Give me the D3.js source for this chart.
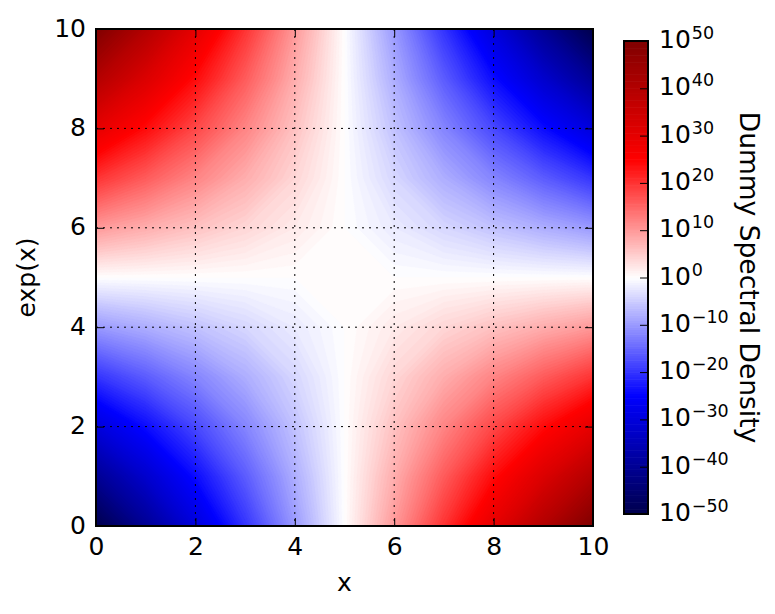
<!DOCTYPE html>
<html>
<head>
<meta charset="utf-8">
<script src="https://cdn.jsdelivr.net/npm/d3@7"></script>
<style>
  body { margin: 0; background: #fff; }
  text { font-family: "DejaVu Sans", sans-serif; fill: #000; }
</style>
</head>
<body>
<div id="chart"></div>
<script>
// tick values of the main axes
var xTicks = [0, 2, 4, 6, 8, 10];
var yTicks = [0, 2, 4, 6, 8, 10];

// sample positions of the field
var gridX = [0, 1, 2, 3, 4, 5, 6, 7, 8, 9, 10];
var gridY = [0, 1, 2, 3, 4, 5, 6, 7, 8, 9, 10];

// log10 of the density at each sample, one row per y (y = 0 first)
var logDensity = [
  [-50, -40, -30, -20, -10, 0, 10, 20, 30, 40, 50],
  [-40, -32, -24, -16, -8, 0, 8, 16, 24, 32, 40],
  [-30, -24, -18, -12, -6, 0, 6, 12, 18, 24, 30],
  [-20, -16, -12, -8, -4, 0, 4, 8, 12, 16, 20],
  [-10, -8, -6, -4, -2, 0, 2, 4, 6, 8, 10],
  [0, 0, 0, 0, 0, 0, 0, 0, 0, 0, 0],
  [10, 8, 6, 4, 2, 0, -2, -4, -6, -8, -10],
  [20, 16, 12, 8, 4, 0, -4, -8, -12, -16, -20],
  [30, 24, 18, 12, 6, 0, -6, -12, -18, -24, -30],
  [40, 32, 24, 16, 8, 0, -8, -16, -24, -32, -40],
  [50, 40, 30, 20, 10, 0, -10, -20, -30, -40, -50]
];

// colorbar ticks (exponents of ten)
var cbExponents = [-50, -40, -30, -20, -10, 0, 10, 20, 30, 40, 50];

var width = 775, height = 614;
var plot = {left: 96, top: 29, right: 593, bottom: 526};
var cb = {left: 624, top: 41, right: 648, bottom: 514};

var svg = d3.select("#chart").append("svg")
    .attr("width", width)
    .attr("height", height);

var x = d3.scaleLinear().domain([0, 10]).range([plot.left, plot.right]);
var y = d3.scaleLinear().domain([0, 10]).range([plot.bottom, plot.top]);

// "seismic" colormap on the exponent
var color = d3.scaleLinear()
    .domain([-50, -25, 0, 25, 50])
    .range(["#00004c", "#0000ff", "#ffffff", "#ff0000", "#800000"]);

// contour levels
var levels = d3.range(-50, 50.0001, 0.5);

svg.append("clipPath").attr("id", "clip")
  .append("rect")
    .attr("x", plot.left).attr("y", plot.top)
    .attr("width", plot.right - plot.left)
    .attr("height", plot.bottom - plot.top);

// filled contours
var nx = gridX.length, ny = gridY.length;
var flat = [];
logDensity.forEach(function(row) { row.forEach(function(v) { flat.push(v); }); });

var ix = d3.scaleLinear().domain([0, nx - 1]).range([gridX[0], gridX[nx - 1]]);
var iy = d3.scaleLinear().domain([0, ny - 1]).range([gridY[0], gridY[ny - 1]]);

var proj = d3.geoTransform({
  point: function(px, py) {
    this.stream.point(x(ix(px - 0.5)), y(iy(py - 0.5)));
  }
});
var path = d3.geoPath(proj);

var bands = d3.contours()
    .size([nx, ny])
    .thresholds(levels.slice(0, -1))(flat);

svg.append("g")
    .attr("clip-path", "url(#clip)")
  .selectAll("path")
  .data(bands)
  .enter().append("path")
    .attr("d", path)
    .attr("fill", function(d) { return color(d.value + 0.25); })
    .attr("stroke", function(d) { return color(d.value + 0.25); })
    .attr("stroke-width", 0.3);

// dotted grid
var grid = svg.append("g");
grid.selectAll(".gx")
  .data(xTicks.slice(1, -1))
  .enter().append("line")
    .attr("x1", function(d) { return x(d); })
    .attr("x2", function(d) { return x(d); })
    .attr("y1", plot.top).attr("y2", plot.bottom)
    .attr("stroke", "#000").attr("stroke-width", 1)
    .attr("stroke-dasharray", "2,5");
grid.selectAll(".gy")
  .data(yTicks.slice(1, -1))
  .enter().append("line")
    .attr("y1", function(d) { return y(d); })
    .attr("y2", function(d) { return y(d); })
    .attr("x1", plot.left).attr("x2", plot.right)
    .attr("stroke", "#000").attr("stroke-width", 1)
    .attr("stroke-dasharray", "2,5");

// axes, ticks pointing inward on all sides
function styleAxis(g) {
  g.select(".domain").remove();
  g.selectAll(".tick line").attr("stroke", "#000").attr("stroke-width", 1);
  g.selectAll(".tick text")
    .attr("font-size", 25)
    .attr("font-family", "DejaVu Sans, sans-serif");
}

svg.append("g")
    .attr("transform", "translate(0," + plot.bottom + ")")
    .call(d3.axisBottom(x).tickValues(xTicks).tickSize(-8).tickPadding(0).tickFormat(d3.format("d")))
    .call(styleAxis)
    .selectAll(".tick text").attr("dy", null).attr("y", 29);

svg.append("g")
    .attr("transform", "translate(0," + plot.top + ")")
    .call(d3.axisTop(x).tickValues(xTicks).tickSize(-8).tickFormat(""))
    .call(styleAxis);

svg.append("g")
    .attr("transform", "translate(" + plot.left + ",0)")
    .call(d3.axisLeft(y).tickValues(yTicks).tickSize(-8).tickFormat(d3.format("d")))
    .call(styleAxis)
    .selectAll(".tick text").attr("dy", null).attr("y", 7).attr("x", -10);

svg.append("g")
    .attr("transform", "translate(" + plot.right + ",0)")
    .call(d3.axisRight(y).tickValues(yTicks).tickSize(-8).tickFormat(""))
    .call(styleAxis);

// frame
svg.append("rect")
    .attr("x", plot.left).attr("y", plot.top)
    .attr("width", plot.right - plot.left)
    .attr("height", plot.bottom - plot.top)
    .attr("fill", "none").attr("stroke", "#000").attr("stroke-width", 2);

// axis labels
svg.append("text")
    .attr("x", (plot.left + plot.right) / 2)
    .attr("y", 591)
    .attr("text-anchor", "middle")
    .attr("font-size", 25)
    .text("x");

svg.append("text")
    .attr("transform", "translate(35," + (plot.top + plot.bottom) / 2 + ") rotate(-90)")
    .attr("text-anchor", "middle")
    .attr("font-size", 25)
    .text("exp(x)");

// colorbar
var cbScale = d3.scaleLog()
    .domain([1e-50, 1e50])
    .range([cb.bottom, cb.top]);

svg.append("g")
  .selectAll("rect")
  .data(levels.slice(0, -1))
  .enter().append("rect")
    .attr("x", cb.left)
    .attr("width", cb.right - cb.left)
    .attr("y", function(d) { return cbScale(Math.pow(10, d + 0.5)); })
    .attr("height", function(d) { return cbScale(Math.pow(10, d)) - cbScale(Math.pow(10, d + 0.5)) + 0.6; })
    .attr("fill", function(d) { return color(d + 0.25); });

var cbAxis = svg.append("g")
    .attr("transform", "translate(" + cb.right + ",0)")
    .call(d3.axisRight(cbScale)
      .tickValues(cbExponents.map(function(e) { return Math.pow(10, e); }))
      .tickSize(-8)
      .tickFormat(""));
cbAxis.select(".domain").remove();
cbAxis.selectAll(".tick line").attr("stroke", "#000").attr("stroke-width", 1);

svg.append("rect")
    .attr("x", cb.left).attr("y", cb.top)
    .attr("width", cb.right - cb.left)
    .attr("height", cb.bottom - cb.top)
    .attr("fill", "none").attr("stroke", "#000").attr("stroke-width", 2);

var cbLabels = svg.append("g")
  .selectAll("text")
  .data(cbExponents)
  .enter().append("text")
    .attr("x", 659)
    .attr("y", function(d) { return cbScale(Math.pow(10, d)) + 7; })
    .attr("font-size", 25);
cbLabels.append("tspan").text("10");
cbLabels.append("tspan")
    .attr("font-size", 17.5)
    .attr("dx", 1)
    .attr("dy", -9)
    .text(function(d) { return d < 0 ? "\u2212" + (-d) : String(d); });

svg.append("text")
    .attr("transform", "translate(740," + (cb.top + cb.bottom) / 2 + ") rotate(90)")
    .attr("text-anchor", "middle")
    .attr("font-size", 26.5)
    .text("Dummy Spectral Density");
</script>
</body>
</html>
